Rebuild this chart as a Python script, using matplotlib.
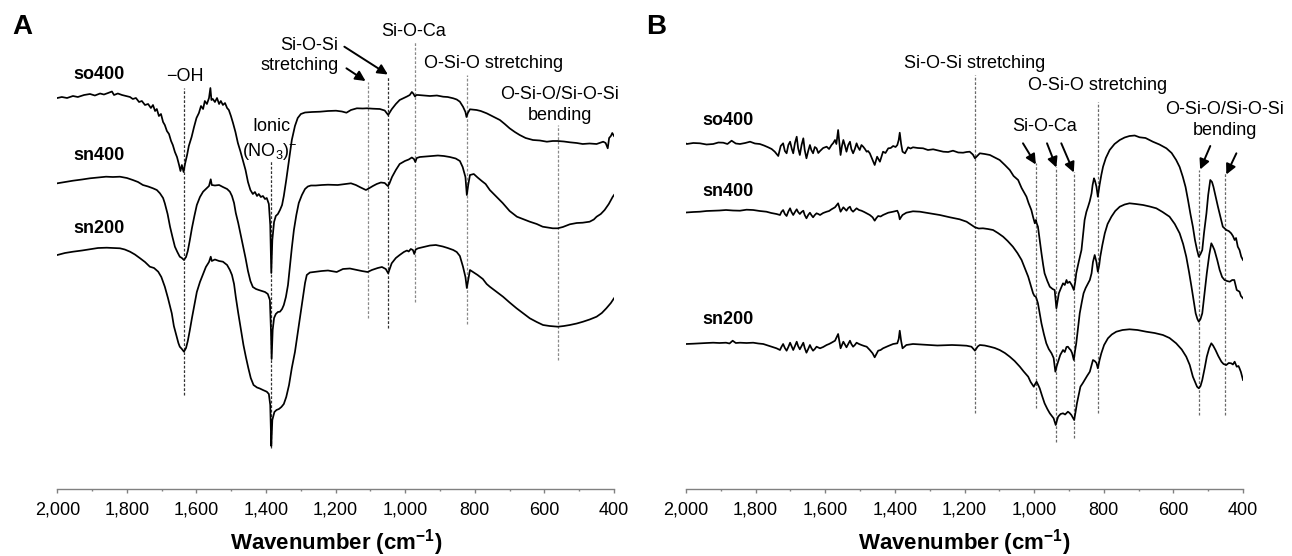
import numpy as np
import matplotlib.pyplot as plt
from matplotlib.ticker import MultipleLocator, FuncFormatter

plt.rcParams['font.family'] = ['Liberation Sans', 'DejaVu Sans']
plt.rcParams['mathtext.fontset'] = 'custom'
plt.rcParams['mathtext.rm'] = 'Liberation Sans'
plt.rcParams['mathtext.bf'] = 'Liberation Sans:bold'

# ---- spectra: (wavenumber cm-1, transmittance a.u., offset) ----
# panel A
A_so400 = [(2000, 391), (1987, 392), (1972, 391), (1955, 393), (1941, 392), (1923, 394), (1906, 395),
           (1892, 393.5), (1877, 395.5), (1866, 394.5), (1854, 396), (1843, 397.5), (1837, 394),
           (1826, 395.5), (1814, 394), (1803, 393), (1791, 392), (1783, 390), (1774, 391), (1765, 387),
           (1757, 388), (1748, 384), (1739, 385), (1731, 381), (1725, 384), (1719, 378), (1714, 380),
           (1708, 373), (1702, 375), (1696, 367), (1691, 364), (1685, 358), (1679, 355), (1673, 348),
           (1668, 344), (1662, 337), (1656, 332), (1650, 324), (1646, 318), (1642, 324), (1637, 317),
           (1633, 325), (1627, 334), (1622, 343), (1614, 352), (1607, 362), (1600, 371), (1593, 376),
           (1587, 383), (1581, 380), (1576, 388), (1570, 385), (1564, 391), (1560, 401), (1557, 389),
           (1553, 390), (1547, 387), (1541, 391), (1535, 385), (1530, 388), (1524, 384), (1518, 386),
           (1512, 381), (1507, 379), (1501, 373), (1495, 366), (1488, 357), (1481, 346), (1474, 338),
           (1467, 329), (1459, 319), (1452, 307), (1445, 299), (1438, 295), (1432, 297), (1426, 293),
           (1421, 295), (1415, 292), (1409, 293), (1403, 290), (1398, 291), (1392, 285), (1388, 264),
           (1385, 216), (1382, 249), (1377, 267), (1372, 273), (1366, 275), (1360, 279), (1354, 284),
           (1349, 293), (1342, 309), (1334, 329), (1326, 349), (1317, 363), (1309, 371), (1300, 375),
           (1288, 376.5), (1268, 377), (1245, 377.3), (1222, 378), (1199, 378.3), (1182, 377.5),
           (1169, 376.3), (1156, 379), (1139, 380.7), (1122, 380.5), (1110, 380.7), (1093, 380.3),
           (1073, 380), (1059, 378.5), (1049, 374), (1039, 379.7), (1027, 385), (1016, 389), (1004, 391),
           (995, 392.5), (987, 394), (981, 397), (977, 395.5), (972, 392.5), (968, 394), (963, 394),
           (947, 393.5), (929, 393), (909, 393.5), (891, 392.3), (878, 392), (862, 390.7), (852, 389.5),
           (843, 387.3), (834, 382.3), (827, 377), (824, 372), (820, 376), (814, 379.7), (795, 379),
           (783, 378), (766, 375.7), (748, 372.5), (728, 369), (714, 365), (700, 360.7), (685, 357),
           (671, 354), (654, 351), (633, 349), (613, 348.5), (593, 347.3), (576, 348), (562, 348),
           (544, 347.5), (527, 346.7), (507, 346), (490, 345), (470, 345.5), (450, 345), (438, 346.5),
           (431, 347.3), (424, 346), (418, 340.7), (414, 351), (409, 353), (405, 356), (400, 353)]

A_sn400 = [(2000, 305.7), (1978, 307), (1955, 308.3), (1929, 309.5), (1906, 310.7), (1883, 311.5),
           (1860, 312.3), (1840, 312), (1820, 312.3), (1800, 311), (1783, 309), (1768, 307), (1754, 304),
           (1739, 302.5), (1725, 300.7), (1714, 299), (1705, 295.7), (1696, 291), (1691, 285.7),
           (1683, 275), (1676, 262.3), (1669, 252), (1662, 242.3), (1655, 237), (1648, 232.3), (1642, 231),
           (1636, 229), (1630, 232), (1625, 238), (1619, 249), (1613, 261), (1606, 273), (1599, 284),
           (1590, 292), (1581, 297.3), (1573, 300), (1564, 303), (1559, 309.7), (1556, 304), (1547, 303.5),
           (1535, 304), (1524, 302), (1512, 300), (1504, 297.3), (1498, 293), (1492, 286), (1487, 276),
           (1480, 266), (1474, 256), (1467, 244), (1459, 231), (1452, 218), (1445, 208), (1438, 202),
           (1429, 200), (1421, 199), (1412, 198), (1403, 197), (1395, 195), (1389, 189), (1386, 159),
           (1384, 130), (1381, 159), (1377, 171), (1372, 175), (1366, 177), (1360, 177.3), (1354, 180),
           (1349, 184), (1343, 192), (1337, 204), (1332, 221), (1326, 241), (1320, 259), (1313, 274),
           (1306, 286), (1297, 294), (1288, 300), (1280, 302.5), (1271, 303.5), (1257, 303.5), (1240, 304),
           (1222, 304.3), (1194, 304), (1173, 305), (1156, 305.7), (1142, 304), (1128, 301.5), (1113, 299),
           (1105, 300.5), (1093, 303), (1082, 305), (1070, 306.5), (1059, 306), (1050, 303), (1046, 305),
           (1038, 312), (1027, 319), (1016, 325), (1001, 328), (990, 329.5), (981, 331.5), (975, 330),
           (971, 327), (967, 331), (958, 332), (941, 332.5), (924, 333), (906, 333.5), (889, 333),
           (872, 332), (855, 330.5), (843, 328), (835, 322), (827, 312), (823, 294), (819, 304), (814, 314),
           (803, 315), (792, 311.5), (780, 308), (769, 305), (757, 299), (737, 292), (720, 286), (700, 278),
           (679, 272.3), (662, 270), (642, 267.3), (622, 265), (605, 262.3), (590, 261.5), (576, 260.7),
           (562, 260.7), (547, 262), (527, 264.7), (507, 266), (490, 266.3), (470, 267.3), (458, 269.5),
           (450, 272.3), (438, 275), (427, 279), (415, 285), (404, 292), (400, 294)]

A_sn200 = [(2000, 234), (1978, 236), (1955, 237.3), (1929, 238.5), (1906, 239.7), (1883, 241), (1858, 241.3),
           (1840, 241), (1820, 240.7), (1806, 239.5), (1791, 237.3), (1777, 234.5), (1762, 230.7),
           (1748, 227), (1734, 222.3), (1722, 221), (1710, 217.3), (1701, 212), (1691, 202.3), (1682, 191),
           (1671, 175.7), (1665, 163), (1657, 152.3), (1652, 146), (1648, 142.3), (1642, 140), (1636, 137.3),
           (1630, 141), (1625, 148), (1619, 159), (1613, 171), (1606, 184), (1599, 197), (1590, 207),
           (1581, 215), (1573, 222), (1564, 227), (1559, 232.3), (1556, 228), (1547, 229.5), (1535, 228),
           (1524, 227.3), (1512, 224), (1504, 219), (1498, 214), (1492, 205), (1487, 192), (1480, 176),
           (1472, 159), (1465, 144), (1458, 132), (1451, 121), (1444, 111), (1436, 104), (1426, 101.5),
           (1418, 100.5), (1409, 99), (1398, 97.3), (1392, 95), (1388, 84), (1385, 43), (1382, 69),
           (1376, 77), (1370, 79), (1363, 80), (1356, 82), (1349, 85), (1342, 92), (1334, 104), (1326, 121),
           (1317, 137), (1309, 156), (1301, 175), (1294, 192), (1288, 206), (1283, 214), (1274, 216.5),
           (1257, 217.3), (1240, 218), (1222, 218.5), (1197, 217), (1179, 220), (1159, 220.5), (1139, 219),
           (1125, 218), (1108, 217), (1096, 219), (1079, 221), (1067, 222), (1056, 220), (1049, 215.7),
           (1039, 225.7), (1027, 231), (1016, 234), (1004, 237), (995, 238.5), (990, 237.5), (984, 240),
           (978, 239), (974, 235), (970, 239.5), (963, 240.7), (947, 242), (929, 243.5), (912, 244),
           (892, 242.5), (878, 241), (862, 239), (852, 237), (843, 233), (834, 222.3), (827, 212), (823, 201),
           (819, 209), (814, 219), (803, 216.5), (792, 214), (777, 210), (766, 205), (757, 202.3), (737, 197),
           (719, 192.3), (700, 186.5), (680, 180.7), (662, 176), (642, 170.7), (622, 167), (604, 164),
           (585, 163), (561, 162.3), (544, 163), (527, 164), (507, 165.5), (489, 167.3), (470, 169.5),
           (450, 172.3), (435, 176), (422, 180.7), (409, 186), (400, 190.7)]

# panel B
B_so400 = [(2000, 345.5), (1998, 345), (1979, 346), (1960, 345.7), (1941, 344.5), (1922, 345), (1907, 346.5),
           (1893, 346.3), (1881, 345), (1869, 348.3), (1857, 345.5), (1845, 345), (1830, 346), (1816, 347.3),
           (1802, 345.5), (1788, 345), (1776, 343.5), (1764, 341.7), (1754, 340), (1745, 337.3), (1735, 333),
           (1728, 343), (1721, 345.7), (1716, 338), (1711, 335.7), (1706, 344), (1701, 347.3), (1696, 340),
           (1692, 335.7), (1687, 346), (1682, 352.3), (1678, 341), (1673, 334), (1668, 344), (1663, 350.7),
           (1659, 339), (1654, 330.7), (1649, 338), (1644, 344), (1640, 339), (1635, 335.7), (1630, 342),
           (1625, 340.7), (1620, 336), (1615, 338), (1606, 341), (1596, 342.3), (1589, 340), (1582, 344),
           (1577, 346), (1572, 349), (1568, 345), (1563, 359), (1559, 345), (1556, 334), (1552, 343),
           (1548, 349), (1543, 343), (1539, 337.3), (1534, 344), (1529, 347.3), (1525, 340), (1520, 335.7),
           (1515, 340), (1510, 345.7), (1506, 342), (1501, 339), (1496, 344), (1491, 342.3), (1486, 340),
           (1481, 337.3), (1477, 338), (1472, 335.7), (1464, 329), (1458, 324), (1451, 332.3), (1443, 327.3),
           (1434, 337.3), (1427, 336), (1419, 340.7), (1412, 341), (1405, 343), (1398, 342), (1393, 344),
           (1389, 349), (1386, 356.3), (1382, 345), (1378, 337.3), (1371, 335.7), (1362, 341.7),
           (1355, 340.5), (1348, 341.7), (1334, 341), (1319, 340.7), (1305, 339), (1290, 339.7),
           (1275, 338.5), (1261, 337.3), (1247, 337), (1233, 338.3), (1218, 336.5), (1204, 336.3),
           (1194, 337), (1185, 337.3), (1176, 334.5), (1170, 330.7), (1156, 335.7), (1142, 335), (1127, 334),
           (1113, 331.5), (1099, 329), (1084, 324), (1070, 319), (1059, 313), (1046, 309), (1036, 301),
           (1022, 292.3), (1016, 286), (1008, 279), (1003, 272), (998, 265.7), (995, 269), (993, 266),
           (989, 262.3), (984, 249), (979, 236), (974, 224), (970, 215.7), (962, 208), (955, 202.3),
           (947, 200), (941, 199), (936, 180.7), (932, 189), (929, 195.7), (924, 200), (917, 205.7),
           (912, 204), (907, 209), (904, 206), (898, 207.3), (892, 204), (886, 199), (882, 207), (879, 215.7),
           (872, 227), (864, 239), (859, 256), (855, 269), (850, 277), (845, 282.3), (840, 288),
           (835, 295.7), (832, 304), (828, 310.7), (825, 308), (821, 302.3), (817, 292.3), (812, 304),
           (807, 314), (802, 322.3), (794, 331), (783, 339), (769, 345), (754, 349), (740, 351.5),
           (726, 353), (711, 353.5), (697, 351.7), (680, 351), (659, 347.3), (640, 344.5), (620, 340.7),
           (605, 336), (592, 329), (582, 322), (573, 312.3), (565, 302), (558, 289), (551, 275),
           (544, 262.3), (538, 249), (532, 239), (527, 232.3), (522, 235), (517, 239), (512, 256),
           (505, 275.7), (500, 294), (494, 309), (489, 307), (485, 302.3), (479, 293), (472, 282.3),
           (464, 271), (458, 262.3), (448, 259), (441, 258), (434, 255.7), (429, 253), (424, 249),
           (420, 251), (415, 242.3), (410, 239), (405, 232.3), (400, 229)]

B_sn400 = [(2000, 276.5), (1979, 277), (1960, 277.3), (1941, 278), (1922, 278.3), (1904, 278.5), (1885, 279),
           (1865, 278.5), (1845, 278.3), (1826, 279.3), (1807, 279), (1788, 278), (1769, 277.3), (1755, 276),
           (1740, 275), (1730, 274), (1726, 277), (1721, 279), (1716, 275), (1711, 273), (1706, 277.5),
           (1701, 280.7), (1697, 277), (1692, 274), (1687, 277), (1682, 279.7), (1678, 277), (1673, 275),
           (1668, 277), (1663, 278.3), (1659, 274), (1654, 270.7), (1649, 274), (1644, 276.3), (1640, 274),
           (1635, 271.7), (1630, 274), (1625, 275.7), (1620, 275), (1615, 274), (1606, 276), (1596, 277.3),
           (1589, 278), (1582, 279.7), (1572, 281.7), (1563, 285.7), (1556, 277.3), (1548, 281.7),
           (1539, 278.3), (1534, 281), (1529, 282.3), (1525, 279), (1520, 277.3), (1515, 279), (1510, 280.7),
           (1503, 279), (1496, 278.3), (1488, 277), (1481, 275.7), (1472, 274), (1464, 271.7), (1458, 268.3),
           (1453, 271), (1448, 273), (1441, 272.5), (1434, 274), (1419, 276.3), (1405, 277.3), (1393, 278.3),
           (1389, 275), (1386, 269.7), (1382, 272), (1378, 274), (1367, 276.3), (1348, 277.7), (1328, 277.3),
           (1300, 275.7), (1271, 274), (1242, 271.7), (1214, 269.7), (1194, 267.3), (1180, 264),
           (1170, 261.7), (1159, 260.5), (1147, 260.7), (1133, 260), (1118, 259), (1104, 256),
           (1089, 252.3), (1076, 248), (1061, 242.3), (1048, 236), (1036, 229), (1027, 221), (1017, 212.3),
           (1010, 204), (1003, 195.7), (999, 193), (995, 192.3), (992, 189), (989, 185.7), (984, 176),
           (979, 165.7), (972, 155), (965, 145.7), (958, 140), (950, 135.7), (944, 131), (939, 117.3),
           (935, 123), (931, 127.3), (925, 134), (917, 139), (912, 137), (907, 142), (903, 142.3), (898, 140),
           (895, 139), (891, 136), (886, 129), (883, 137), (879, 145.7), (874, 161), (869, 175.7), (863, 187),
           (858, 195.7), (852, 201), (845, 205.7), (840, 209), (835, 215.7), (831, 227), (826, 234),
           (821, 227), (817, 217.3), (813, 224), (810, 232.3), (804, 244), (797, 255.7), (789, 265),
           (778, 272.3), (767, 278), (754, 282.3), (740, 284.5), (726, 285.7), (708, 285), (687, 284),
           (668, 282.5), (649, 280.7), (631, 277), (611, 272.3), (596, 265), (582, 255.7), (572, 245),
           (563, 232.3), (555, 217), (548, 202.3), (542, 189), (536, 175.7), (531, 170), (527, 167.3),
           (522, 170), (517, 175.7), (510, 197), (504, 215.7), (497, 234), (491, 245.7), (487, 243),
           (482, 239), (474, 229), (467, 219), (460, 212), (453, 209), (446, 208), (438, 207.3), (431, 209),
           (425, 209), (420, 202), (418, 199), (410, 197.3), (406, 193), (400, 190.7)]

B_sn200 = [(2000, 145), (1979, 145.3), (1960, 145.7), (1941, 146), (1922, 146.3), (1904, 146), (1885, 146.3),
           (1875, 145.5), (1866, 148.3), (1857, 146), (1845, 146.3), (1826, 146), (1807, 146.3),
           (1792, 145.5), (1778, 145), (1769, 144), (1759, 143), (1750, 142), (1740, 140.7), (1730, 139),
           (1726, 142), (1721, 145), (1716, 141), (1711, 138.3), (1706, 142), (1701, 146.3), (1697, 143),
           (1692, 139), (1687, 143), (1682, 147.3), (1678, 143), (1673, 139.7), (1668, 143), (1663, 146.3),
           (1659, 141), (1654, 136.3), (1649, 140), (1644, 144), (1640, 141), (1635, 138.3), (1630, 140),
           (1625, 142.3), (1620, 141.5), (1615, 140.7), (1606, 142), (1596, 144), (1589, 145), (1582, 146.3),
           (1572, 148.3), (1563, 155), (1556, 140.7), (1548, 147.3), (1539, 141.7), (1534, 145),
           (1529, 148.3), (1525, 145), (1520, 142.3), (1515, 144), (1510, 146.3), (1503, 145), (1496, 144),
           (1488, 143), (1481, 142.3), (1472, 139), (1464, 135.7), (1458, 131.7), (1453, 135), (1448, 138.3),
           (1441, 139), (1434, 140.7), (1419, 143), (1405, 145), (1393, 145.7), (1389, 150), (1386, 158.3),
           (1382, 148), (1378, 140.7), (1367, 144), (1348, 145), (1324, 144.5), (1300, 144), (1278, 143.5),
           (1257, 143.7), (1236, 144), (1214, 143.7), (1194, 143.3), (1180, 142.3), (1170, 138.3),
           (1162, 142.5), (1156, 144), (1142, 143.5), (1127, 142.3), (1113, 141), (1099, 139), (1084, 136),
           (1070, 132.3), (1056, 128), (1041, 122.3), (1030, 117.5), (1017, 112.3), (1010, 107), (1001, 102.3),
           (997, 105), (993, 107.3), (989, 104.5), (984, 100.7), (977, 93), (970, 85.7), (962, 80),
           (955, 75.7), (949, 73), (944, 70.7), (938, 64), (934, 69), (931, 72.3), (924, 75), (917, 75.7),
           (911, 74.5), (903, 77.3), (898, 76), (893, 74), (885, 69), (881, 77), (877, 85.7), (872, 94),
           (867, 102.3), (860, 106), (855, 109), (848, 113), (840, 117.3), (835, 124), (831, 129), (826, 128),
           (821, 126), (817, 120.7), (812, 129), (807, 135.7), (799, 144), (788, 150.7), (777, 154.5),
           (764, 157.3), (746, 159), (726, 159.7), (703, 159), (678, 157.3), (654, 156), (630, 154),
           (611, 151), (592, 145.7), (576, 139.5), (563, 132.3), (553, 124), (544, 112.3), (532, 102.3),
           (527, 100.7), (522, 103), (517, 109), (510, 121), (504, 132.3), (497, 141), (491, 145.7),
           (486, 143.5), (479, 139), (471, 133), (462, 127.3), (456, 125), (448, 124), (441, 126),
           (434, 125.7), (429, 124.5), (424, 127.3), (420, 124), (418, 122.3), (413, 123), (410, 120.7),
           (406, 117), (400, 109)]

sample_names = ['so400', 'sn400', 'sn200']

# assigned band positions (cm-1)
bands_A = [1635, 1385, 1107, 1049, 972, 823, 560]
bands_B = [1170, 995, 938, 886, 817, 527, 453]

xticks = [2000, 1800, 1600, 1400, 1200, 1000, 800, 600, 400]


def style_axis(ax):
    ax.set_xlim(2000, 400)
    ax.set_ylim(-0.3, 479.7)
    for s in ['left', 'right', 'top']:
        ax.spines[s].set_visible(False)
    ax.spines['bottom'].set_color('#808080')
    ax.spines['bottom'].set_linewidth(1.0)
    ax.set_yticks([])
    ax.set_xticks(xticks)
    ax.xaxis.set_minor_locator(MultipleLocator(100))
    ax.xaxis.set_major_formatter(FuncFormatter(lambda v, p: f'{v:,.0f}'))
    ax.tick_params(axis='x', which='major', direction='out', length=3, width=1.0,
                   color='#808080', labelsize=13, pad=6)
    ax.tick_params(axis='x', which='minor', direction='out', length=1.7, width=1.0,
                   color='#808080')
    ax.set_xlabel('Wavenumber (cm$^{\\mathbf{-1}}$)', fontsize=16, fontweight='bold', labelpad=6)
    ax.patch.set_alpha(0)


def plot_curves(ax, curves):
    for c in curves:
        arr = np.array(c)
        ax.plot(arr[:, 0], arr[:, 1], color='black', lw=1.25, solid_joinstyle='round')


def arrow(ax, start, end):
    ax.annotate('', xy=end, xytext=start,
                arrowprops=dict(arrowstyle='-|>', color='black', lw=1.4,
                                mutation_scale=15, shrinkA=0, shrinkB=0))


fig = plt.figure(figsize=(12.92, 5.56), dpi=100)
axA = fig.add_axes([57.3 / 1292, 66.7 / 556, 556.7 / 1292, 480 / 556])
axB = fig.add_axes([686 / 1292, 66.7 / 556, 557 / 1292, 480 / 556])

# ---------------- panel A ----------------
bandA_top = [401, 328, 407, 412, 447, 414, 364]
bandA_bot = [94, 41, 171, 161, 187, 165, 129]
bandA_col = ['#333333', '#333333', '#8a8a8a', '#333333', '#8a8a8a', '#8a8a8a', '#8a8a8a']
for b, t, lo, c in zip(bands_A, bandA_top, bandA_bot, bandA_col):
    axA.vlines(b, lo, t, colors=c, linestyles=(0, (2.2, 1.4)), lw=0.9)
plot_curves(axA, [A_so400, A_sn400, A_sn200])
style_axis(axA)

for name, yv in zip(sample_names, [414.5, 333.3, 260.5]):
    axA.text(1880, yv, name, fontsize=13, fontweight='bold', ha='center', va='center')
axA.text(1633, 412.5, '\u2212OH', fontsize=13, ha='center', va='center')
axA.text(1385, 362.5, 'Ionic', fontsize=13, ha='center', va='center')
axA.text(1389, 338, '(NO$_\\mathregular{3}$)$^\\mathregular{-}$', fontsize=13, ha='center', va='center')
axA.text(1192, 433.5, 'Si-O-Si\nstretching', fontsize=13, ha='right', va='center',
         multialignment='right', linespacing=1.25)
axA.text(975, 457.3, 'Si-O-Ca', fontsize=13, ha='center', va='center')
axA.text(745, 425.5, 'O-Si-O stretching', fontsize=13, ha='center', va='center')
axA.text(556, 384, 'O-Si-O/Si-O-Si\nbending', fontsize=13, ha='center', va='center', linespacing=1.25)
arrow(axA, (1169, 420.7), (1114, 408))
arrow(axA, (1175, 442.3), (1050, 414.5))

# ---------------- panel B ----------------
bandB_top = [414, 326, 322, 317, 387, 319, 316]
bandB_bot = [76, 81, 47, 51, 76, 74, 74]
for b, t, lo in zip(bands_B, bandB_top, bandB_bot):
    axB.vlines(b, lo, t, colors='#6a6a6a', linestyles=(0, (2.2, 1.4)), lw=0.9)
plot_curves(axB, [B_so400, B_sn400, B_sn200])
style_axis(axB)

for name, yv in zip(sample_names, [369, 298, 169.5]):
    axB.text(1879, yv, name, fontsize=13, fontweight='bold', ha='center', va='center')
axB.text(1170, 426, 'Si-O-Si stretching', fontsize=13, ha='center', va='center')
axB.text(817, 403.3, 'O-Si-O stretching', fontsize=13, ha='center', va='center')
axB.text(970, 362.5, 'Si-O-Ca', fontsize=13, ha='center', va='center')
axB.text(453, 369, 'O-Si-O/Si-O-Si\nbending', fontsize=13, ha='center', va='center', linespacing=1.25)
arrow(axB, (1032, 345.7), (995, 324.5))
arrow(axB, (963, 345.7), (936, 321.5))
arrow(axB, (922, 345.7), (886, 316.5))
arrow(axB, (494, 343), (523, 319.5))
arrow(axB, (419, 335.7), (448, 314.5))

fig.text(12 / 1292, 1 - 27 / 556, 'A', fontsize=20, fontweight='bold', ha='left', va='center')
fig.text(646 / 1292, 1 - 27 / 556, 'B', fontsize=20, fontweight='bold', ha='left', va='center')

fig.savefig('out.png', dpi=100)
